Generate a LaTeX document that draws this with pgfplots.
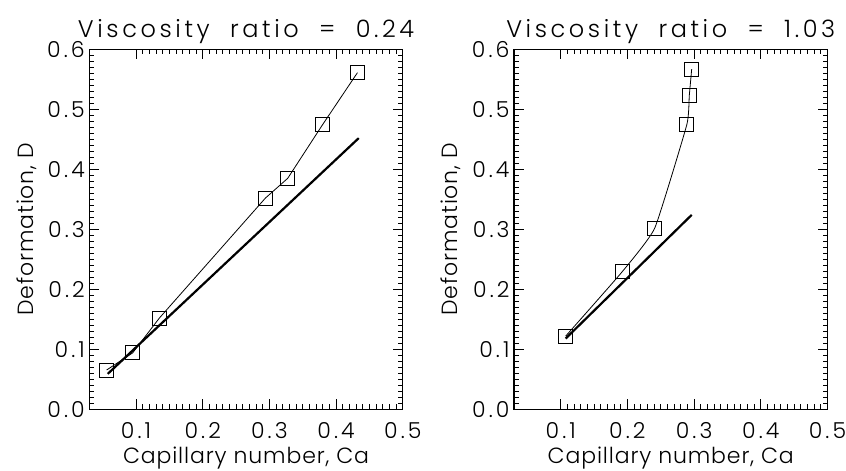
\documentclass[border=0pt]{standalone}
\usepackage{pgfplots}
\pgfplotsset{compat=1.18}
\usepackage{fontspec}
\setmainfont{Poppins Light}
\newfontfamily\tickfont{Poppins Light}[LetterSpace=14]
\newfontfamily\labfont{Poppins Light}[LetterSpace=4]
\newfontfamily\titfont{Poppins Light}[LetterSpace=15]
\pgfplotsset{
  idl/.style={
    scale only axis, width=313.5pt, height=360pt,
    xmin=0.03, xmax=0.5, ymin=0, ymax=0.6,
    xtick={0.1,0.2,0.3,0.4,0.5}, ytick={0,0.1,0.2,0.3,0.4,0.5,0.6},
    minor tick num=9,
    tick align=inside,
    major tick length=10pt, minor tick length=5pt,
    every tick/.style={black, line width=0.9pt},
    axis line style={line width=1.1pt},
    /pgf/number format/assume math mode=true,
    /pgf/number format/.cd, fixed, fixed zerofill, precision=1, /pgfplots/.cd,
    tick label style={font=\tickfont\fontsize{22}{22}\selectfont},
    xticklabel style={yshift=-10pt},
    yticklabel style={xshift=-1pt},
    label style={font=\labfont\fontsize{22}{22}\selectfont},
    title style={font=\titfont\fontsize{24}{24}\selectfont, yshift=-4pt},
    xlabel={Capillary\ number,\ Ca},
    ylabel={Deformation,\ D},
    xlabel style={yshift=-1pt},
    ylabel style={yshift=4pt},
    clip=false,
  },
  thin/.style={black, line width=0.8pt, mark=square, mark size=7pt, mark options={solid, line width=0.9pt}},
  thick/.style={black, line width=2.2pt, no marks},
}
\begin{document}
\begin{tikzpicture}
\useasboundingbox (0,0) rectangle (846pt,471pt);
\begin{axis}[idl, at={(89.3pt,61.7pt)}, anchor=south west,
  title={Viscosity\ \ ratio\ \ =\ \ 0.24}]
\addplot[thick] coordinates {(0.0576,0.059) (0.434,0.452)};
\addplot[thin] coordinates {
(0.056,0.0655) (0.095,0.094) (0.135,0.152) (0.294,0.352)
(0.3275,0.385) (0.3795,0.474) (0.432,0.561)};
\end{axis}
\begin{axis}[idl, at={(514pt,61.7pt)}, anchor=south west,
  title={Viscosity\ \ ratio\ \ =\ \ 1.03}]
\addplot[thick] coordinates {(0.1075,0.118) (0.2964,0.324)};
\addplot[thin, smooth, tension=0.25] coordinates {
(0.1075,0.122) (0.192,0.229) (0.241,0.302) (0.289,0.474)
(0.2928,0.523) (0.2964,0.567)};
\end{axis}
\end{tikzpicture}
\end{document}
